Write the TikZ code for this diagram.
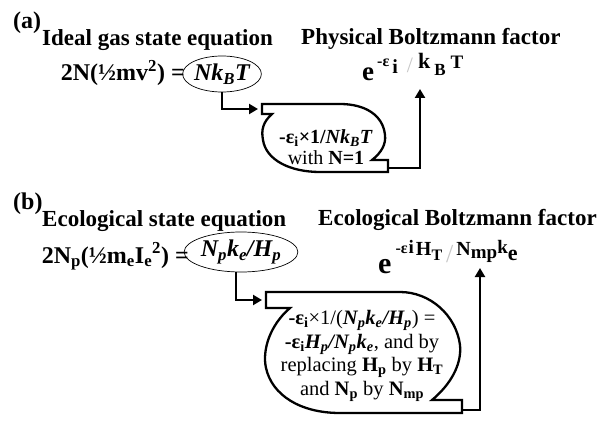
\documentclass[tikz,border=0pt]{standalone}
\usepackage{fontspec}
\setmainfont{Liberation Serif}
\usepackage{tikz}
\usetikzlibrary{arrows.meta,shapes.geometric}
\newcommand{\lo}[1]{\textsubscript{#1}}
\newcommand{\fs}[1]{\fontsize{#1}{#1}\selectfont}

\begin{document}
\begin{tikzpicture}[x=1pt,y=-1pt,
  title/.style={font=\fs{23}\bfseries, inner sep=0, anchor=base west},
  gasring/.style={draw, ellipse, line width=0.7pt, inner sep=0, font=\fs{24}\bfseries\itshape},
  bubble/.style={draw, line width=2.3pt, line join=miter},
  flow/.style={line width=2.3pt, shorten >=3pt, -{Triangle[length=9pt,width=10pt]}}]
  \useasboundingbox (0,0) rectangle (609,422);

  % (a) ideal gas
  \node[title, font=\fs{24}\bfseries] (labA) at (13,29) {(a)};
  \node[title] (headA) at (42,46) {Ideal gas state equation};
  \node[title] (factA) at (301,45) {Physical Boltzmann factor};
  \node[title, font=\fs{24}\bfseries, anchor=base east] (eqA) at (185,81) {2N(½mv\textsuperscript{2}) =};
  \node[gasring, minimum width=72pt, minimum height=36pt] (ringA) at (222,74) {Nk\lo{B}T};
  \node[anchor=base west, inner sep=0, font=\bfseries] (formA) at (362,81)
    {\fs{27}e\kern3pt\raisebox{14pt}{\fs{16}-ε}\kern3pt\raisebox{7pt}{\fs{20}i}\kern9pt\raisebox{8pt}{\fs{22}\mdseries\color{gray!45}/}\kern5pt\raisebox{12pt}{\fs{22}k}\kern4pt\raisebox{5pt}{\fs{17}B}\kern5pt\raisebox{12pt}{\fs{19}T}};

  \draw[bubble] (262,104) -- (262,114) -- (272,114)
    .. controls (263,122) and (261,130) .. (263,140)
    .. controls (266,160) and (290,172) .. (320,172) -- (388,172) -- (388,160) -- (372,160)
    .. controls (382,152) and (386,144) .. (385,135)
    .. controls (383,115) and (365,104) .. (340,104) -- cycle;
  \coordinate (tabA) at (262,109);
  \coordinate (outA) at (388,168);
  \coordinate (tipA) at (420,86);
  \node[font=\fontsize{20}{21}\selectfont, align=center, inner sep=0] (noteA) at (326,147)
    {\textbf{-ε\lo{i}×1/\textit{Nk\lo{B}T}}\\ with \textbf{N=1}};

  \draw[flow, shorten >=4pt] (ringA.south) |- (tabA);
  \draw[flow] (outA) -| (tipA);

  % (b) ecological
  \node[title, font=\fs{24}\bfseries] (labB) at (13,209) {(b)};
  \node[title] (headB) at (42,226) {Ecological state equation};
  \node[title] (factB) at (318,225) {Ecological Boltzmann factor};
  \node[title, font=\fs{24}\bfseries, anchor=base east] (eqB) at (189,263) {2N\lo{p}(½m\lo{e}I\lo{e}\textsuperscript{2}) =};
  \node[gasring, minimum width=98pt, minimum height=40pt] (ringB) at (241,252) {N\lo{p}k\lo{e}/H\lo{p}};
  \node[anchor=base west, inner sep=0, font=\bfseries] (formB) at (378,273)
    {\fs{30}e\kern4pt\raisebox{20pt}{\fs{16}-ε}\kern1pt\raisebox{20pt}{\fs{19}i}\kern2pt\raisebox{18pt}{\fs{20}H}\raisebox{13pt}{\fs{16}T}\kern4pt\raisebox{11pt}{\fs{26}\mdseries\color{gray!45}/}\kern3pt\raisebox{18pt}{\fs{20}N}\raisebox{15pt}{\fs{19}mp}\raisebox{20pt}{\fs{19}k}\raisebox{13pt}{\fs{22}e}};

  \draw[bubble] (266,292) -- (266,308) -- (290,308)
    .. controls (270,325) and (262,350) .. (266,368)
    .. controls (272,395) and (300,413) .. (340,413) -- (462,413) -- (462,400) -- (432,400)
    .. controls (450,385) and (462,365) .. (460,345)
    .. controls (456,315) and (430,292) .. (400,292) -- cycle;
  \coordinate (tabB) at (266,300);
  \coordinate (outB) at (462,410);
  \coordinate (tipB) at (480,265);
  \node[font=\fontsize{20.5}{23.5}\selectfont, align=center, inner sep=0] (noteB) at (362,356)
    {\textbf{-ε\lo{i}}×1/(\textbf{\textit{N\lo{p}k\lo{e}/H\lo{p}}}) =\\
     \textbf{-ε\lo{i}\textit{H\lo{p}/N\lo{p}k\lo{e}}}, and by\\
     replacing \textbf{H\lo{p}} by \textbf{H\lo{T}}\\
     and \textbf{N\lo{p}} by \textbf{N\lo{mp}}};

  \draw[flow, shorten >=4pt] ([xshift=-5pt]ringB.south) |- (tabB);
  \draw[flow] (outB) -| (tipB);
\end{tikzpicture}
\end{document}
